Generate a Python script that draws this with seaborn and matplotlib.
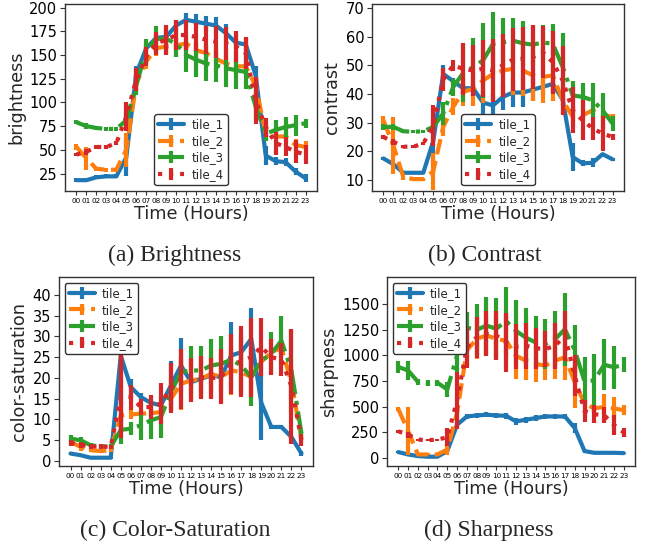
import numpy as np
import pandas as pd
import matplotlib
matplotlib.use("Agg")
import matplotlib.pyplot as plt
import seaborn as sns
from matplotlib.legend_handler import HandlerTuple

# ---------------- data ----------------
hours = list(range(24))
hour_labels = [f"{h:02d}" for h in hours]
tiles = ["tile_1", "tile_2", "tile_3", "tile_4"]

# Brightness
bright_t1 = [18, 18, 21, 22, 22, 42, 130, 157, 168, 169, 181, 187, 185, 183, 181, 173, 163, 161, 128, 44, 38, 37, 27, 20]
bright_t1_err = [2, 2, 2, 2, 2, 20, 8, 5, 4, 4, 6, 7, 8, 8, 9, 10, 8, 8, 10, 10, 4, 4, 4, 4]
bright_t2 = [53, 41, 30, 29, 29, 50, 120, 143, 157, 159, 160, 162, 155, 152, 146, 141, 138, 138, 117, 67, 64, 64, 55, 53]
bright_t2_err = [3, 12, 2, 2, 2, 18, 10, 8, 8, 8, 8, 8, 8, 8, 8, 8, 8, 8, 10, 6, 6, 6, 6, 6]
bright_t3 = [79, 75, 73, 72, 72, 81, 118, 155, 167, 167, 162, 150, 145, 141, 139, 136, 134, 132, 95, 67, 71, 74, 76, 78]
bright_t3_err = [2, 3, 2, 2, 2, 10, 10, 12, 14, 15, 14, 18, 18, 18, 18, 20, 20, 18, 12, 8, 10, 11, 11, 5]
bright_t4 = [45, 48, 53, 53, 57, 85, 124, 148, 162, 166, 171, 171, 169, 166, 164, 162, 159, 152, 102, 74, 57, 53, 48, 45]
bright_t4_err = [2, 3, 2, 2, 2, 15, 12, 10, 12, 16, 16, 16, 15, 15, 17, 17, 16, 17, 25, 10, 12, 10, 12, 10]

# Contrast
contrast_t1 = [17.5, 15.5, 12.5, 12.5, 12.5, 23.5, 47, 44.5, 42, 42, 37, 36, 39, 40.5, 40.5, 41.5, 42.5, 43.5, 38, 18, 15.8, 16, 19, 17.2]
contrast_t1_err = [0.5, 0.5, 0.5, 0.5, 0.5, 8, 3, 1, 1, 1, 4, 4, 4.5, 5, 5, 4, 3, 3, 2, 5, 1, 1.5, 0.5, 0.5]
contrast_t2 = [30.8, 22, 11, 10.3, 10.3, 13, 28.5, 35.5, 40.7, 41.8, 44.7, 47, 48.2, 48.8, 48.2, 46.5, 45.9, 46.5, 37.8, 32, 32.6, 34.3, 32.6, 32]
contrast_t2_err = [1.5, 10, 1, 0.5, 0.5, 6.5, 3, 3, 5, 6, 8, 9, 9, 9, 9, 9, 9, 9, 5, 3.5, 2, 2, 2, 1]
contrast_t3 = [28.5, 28.5, 27, 26.8, 27, 28.5, 33.2, 42.4, 47.3, 49.4, 51.7, 57.5, 58, 58.6, 57.7, 57.2, 58, 57.5, 49.4, 39.5, 39, 37.8, 34.3, 29.7]
contrast_t3_err = [1, 1, 0.5, 0.5, 0.5, 1.5, 4, 3, 10, 10, 13, 11, 8.5, 8, 7.7, 7, 6.2, 7, 12, 5, 5, 6, 6, 2.5]
contrast_t4 = [25, 23.3, 21.6, 21.6, 22.7, 29, 45, 50, 48.8, 48.2, 48.8, 48.2, 50, 52, 52.3, 52.9, 54.6, 51.1, 44.7, 34.3, 30.8, 28, 26.2, 25]
contrast_t4_err = [0.8, 1, 0.5, 0.5, 0.5, 7, 4, 2, 9, 9, 10, 11, 11, 11, 11, 11, 9, 11, 12, 8, 7, 4, 6, 1]

# Color-saturation
sat_t1 = [1.8, 1.4, 0.8, 0.8, 0.8, 25.4, 17.8, 15.4, 14, 13.4, 18.2, 23, 19, 19.8, 20.6, 20.2, 25.4, 26.2, 29.4, 14, 8.2, 8.2, 5.8, 1.8]
sat_t1_err = [0.3, 0.3, 0.2, 0.2, 0.2, 16, 2, 1, 1, 1, 6, 6.5, 1, 1, 1, 1, 8, 4.5, 7.5, 9, 0.5, 0.5, 0.5, 0.5]
sat_t2 = [4.6, 3.4, 2.6, 2.4, 2.6, 11, 11.2, 11.4, 11.5, 11.8, 15, 18.6, 19.4, 19.8, 21, 20.2, 21.8, 21.4, 20.2, 23.9, 26.1, 27.3, 18.9, 5.3]
sat_t2_err = [0.8, 1, 0.5, 0.5, 0.5, 3, 1, 1, 1, 1, 3, 6.4, 5, 4.8, 6, 6, 6, 5.2, 5, 2, 1.5, 1.5, 4, 1]
sat_t3 = [5.4, 5, 3.8, 3.5, 3.5, 7.5, 7.8, 8.6, 9.8, 10.6, 16.6, 21.4, 21.8, 21.8, 23, 23.4, 24.4, 23, 20.2, 24.2, 25.8, 29, 21.8, 6.6]
sat_t3_err = [0.8, 0.8, 0.5, 0.5, 0.5, 3.5, 1.5, 3.5, 4.5, 5, 3, 3, 6, 6, 6.4, 6.8, 2, 6.5, 7, 1, 5.2, 6, 10, 0.5]
sat_t4 = [4.3, 3.9, 3.5, 3.5, 3.4, 15.5, 15.4, 13, 13, 13.8, 17.5, 19.7, 19.5, 20.1, 19.9, 20.3, 23.3, 24, 25, 27.5, 25, 24.4, 18, 5]
sat_t4_err = [0.8, 0.8, 0.5, 0.5, 0.5, 10, 3, 2, 3, 5, 6, 7.2, 5.4, 5.2, 5, 6.6, 7.2, 8.5, 9.5, 7, 4.4, 4, 13.8, 1.4]

# Sharpness
sharp_t1 = [55, 32, 16, 10, 10, 65, 323, 403, 413, 420, 413, 410, 355, 371, 387, 403, 403, 403, 290, 65, 48, 48, 48, 45]
sharp_t1_err = [10, 10, 5, 5, 5, 15, 40, 25, 25, 25, 25, 30, 35, 30, 30, 25, 25, 25, 50, 15, 5, 5, 5, 5]
sharp_t2 = [475, 263, 32, 32, 32, 80, 440, 1048, 1161, 1194, 1161, 1142, 997, 948, 916, 900, 948, 981, 739, 529, 481, 497, 481, 465]
sharp_t2_err = [20, 234, 10, 10, 10, 50, 60, 150, 200, 200, 200, 250, 226, 193, 177, 145, 183, 226, 250, 60, 40, 130, 113, 50]
sharp_t3 = [887, 852, 742, 732, 732, 667, 1000, 1270, 1250, 1290, 1260, 1335, 1239, 1174, 1126, 1110, 1158, 1255, 1050, 747, 755, 908, 884, 908]
sharp_t3_err = [60, 97, 30, 30, 30, 72, 160, 150, 250, 280, 300, 335, 306, 290, 258, 242, 274, 355, 250, 234, 258, 250, 210, 73]
sharp_t4 = [258, 226, 177, 171, 177, 200, 560, 1081, 1177, 1210, 1194, 1126, 1085, 1094, 1070, 1061, 1094, 1190, 800, 456, 424, 416, 320, 247]
sharp_t4_err = [15, 30, 10, 10, 10, 90, 280, 200, 200, 220, 240, 290, 218, 225, 200, 177, 225, 242, 200, 105, 89, 80, 97, 40]

captions = ["(a) Brightness", "(b) Contrast", "(c) Color-Saturation", "(d) Sharpness"]
ylabels = ["brightness", "contrast", "color-saturation", "sharpness"]
xlabel = "Time (Hours)"

# ---------------- style ----------------
sns.set_style("ticks")
plt.rcParams.update({
    "font.family": ["DejaVu Sans"],
    "axes.edgecolor": "0.2",
    "axes.linewidth": 1.0,
    "xtick.color": "0.2",
    "ytick.color": "0.2",
    "xtick.labelcolor": "black",
    "ytick.labelcolor": "black",
    "xtick.major.size": 3,
    "ytick.major.size": 3.5,
})

colors = ["#1f77b4", "#ff7f0e", "#2ca02c", "#d62728"]
linestyles = ["-", "--", "-.", ":"]
LW = 3.0

fig = plt.figure(figsize=(6.45, 5.48), dpi=100)
positions = [
    [0.1008, 0.6515, 0.3907, 0.3412],
    [0.5767, 0.6515, 0.3907, 0.3412],
    [0.0915, 0.1496, 0.3938, 0.3449],
    [0.6000, 0.1496, 0.3845, 0.3449],
]
panels = [
    ([bright_t1, bright_t2, bright_t3, bright_t4], [bright_t1_err, bright_t2_err, bright_t3_err, bright_t4_err],
     (6.6, 203.7), np.arange(25, 201, 25), "lower center"),
    ([contrast_t1, contrast_t2, contrast_t3, contrast_t4], [contrast_t1_err, contrast_t2_err, contrast_t3_err, contrast_t4_err],
     (6.15, 71.4), np.arange(10, 71, 10), "lower center"),
    ([sat_t1, sat_t2, sat_t3, sat_t4], [sat_t1_err, sat_t2_err, sat_t3_err, sat_t4_err],
     (-1.2, 44.3), np.arange(0, 41, 5), "upper left"),
    ([sharp_t1, sharp_t2, sharp_t3, sharp_t4], [sharp_t1_err, sharp_t2_err, sharp_t3_err, sharp_t4_err],
     (-81, 1765), np.arange(0, 1501, 250), "upper left"),
]

for i, (pos, (means, errs, ylim, yticks, loc)) in enumerate(zip(positions, panels)):
    ax = fig.add_axes(pos)
    rows = []
    for t, m, e in zip(tiles, means, errs):
        for h, v, ee in zip(hours, m, e):
            rows.append({"tile": t, "hour": h, "value": v, "err": ee})
    df = pd.DataFrame(rows)
    handles = []
    for t, c, ls in zip(tiles, colors, linestyles):
        sub = df[df["tile"] == t]
        eb = ax.errorbar(sub["hour"], sub["value"], yerr=sub["err"], fmt="none",
                         ecolor=c, elinewidth=LW, capsize=0)
        sns.lineplot(data=sub, x="hour", y="value", ax=ax, color=c, linestyle=ls,
                     linewidth=LW, legend=False, errorbar=None)
        line = ax.lines[-1]
        handles.append((eb, line))
    ax.set_xlim(-1.15, 24.15)
    ax.set_ylim(*ylim)
    ax.set_xticks(hours)
    ax.set_xticklabels(hour_labels, fontsize=5.2)
    ax.set_yticks(yticks)
    ax.tick_params(axis="y", labelsize=10.5, pad=2)
    ax.tick_params(axis="x", pad=2)
    ax.set_xlabel(xlabel, fontsize=12.7, labelpad=1)
    ax.set_ylabel(ylabels[i], fontsize=12.7, labelpad=3)
    leg = ax.legend(handles, tiles, loc=loc, fontsize=8.5,
                    handler_map={tuple: HandlerTuple(ndivide=1, pad=0)},
                    handlelength=2.2, labelspacing=0.3, borderpad=0.35,
                    handletextpad=0.6, frameon=True, fancybox=True,
                    framealpha=1.0, edgecolor="0.2")
    leg.get_frame().set_linewidth(1.0)

caption_pos = [(0.271, 0.5347), (0.752, 0.5347), (0.271, 0.0328), (0.757, 0.0328)]
for (x, y), txt in zip(caption_pos, captions):
    fig.text(x, y, txt, ha="center", va="center", fontsize=17,
             family=["Liberation Serif", "DejaVu Serif"])

fig.savefig("out.png", dpi=100)
